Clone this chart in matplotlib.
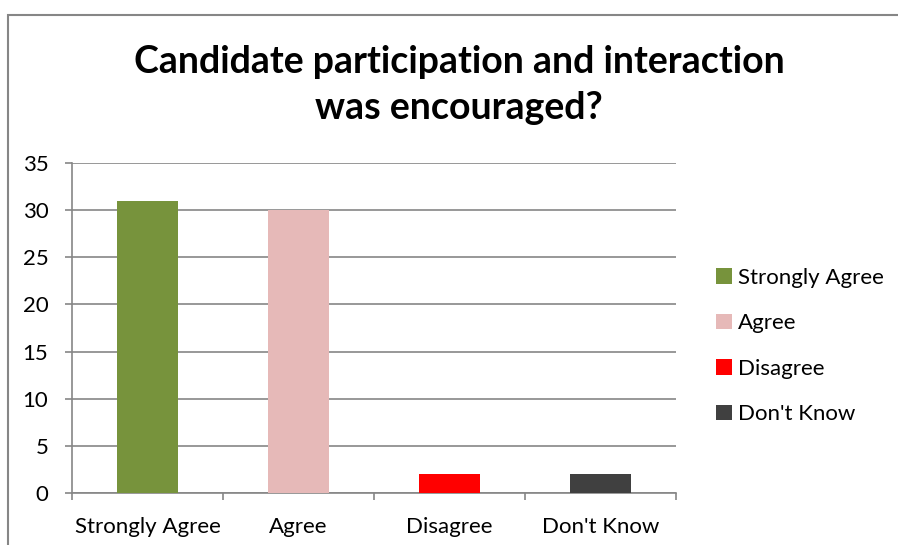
import matplotlib.pyplot as plt
from matplotlib.patches import Patch, Rectangle

categories = ["Strongly Agree", "Agree", "Disagree", "Don't Know"]
counts = [31, 30, 2, 2]
colors = ["#77933C", "#E6B9B8", "#FF0000", "#404040"]
title = "Candidate participation and interaction\nwas encouraged?"

W, H = 898, 545
plt.rcParams['font.family'] = ['Lato', 'DejaVu Sans']

fig = plt.figure(figsize=(W / 100, H / 100), dpi=100)

# outer chart border (runs off the right/bottom of the picture)
fig.patches.append(Rectangle((8 / W, -0.1), 1.2, 1 - 15 / H + 0.1, transform=fig.transFigure,
                             fill=False, edgecolor="#868686", linewidth=1.5))

ax = fig.add_axes([72 / W, 52 / H, 604 / W, 330 / H])
x = range(len(categories))
ax.bar(x, counts, width=0.4, color=colors, zorder=3)

ax.set_xlim(-0.5, len(categories) - 0.5)
ax.set_ylim(0, 35)
ax.set_yticks(range(0, 36, 5))
ax.grid(axis='y', color="#868686", linewidth=1.2, zorder=0)

ax.set_xticks([i - 0.5 for i in range(len(categories) + 1)])
ax.set_xticklabels([])
ax.set_xticks(list(x), minor=True)
ax.set_xticklabels(categories, minor=True, fontsize=16)
ax.tick_params(axis='x', which='minor', length=0, pad=17)
ax.tick_params(axis='x', which='major', length=5, color="#868686", width=1.2)
ax.tick_params(axis='y', length=5, color="#868686", width=1.2, labelsize=16, pad=12)

for side in ['top', 'right']:
    ax.spines[side].set_visible(False)
for side in ['left', 'bottom']:
    ax.spines[side].set_color("#868686")
    ax.spines[side].set_linewidth(1.2)

fig.text(459 / W, 1 - 85 / H, title, ha='center', va='center', fontsize=27,
         fontweight='bold', linespacing=1.4)

handles = [Patch(facecolor=c, edgecolor='none') for c in colors]
fig.legend(handles, categories, loc='center left', bbox_to_anchor=(696 / W, 1 - 346 / H),
           frameon=False, fontsize=16, handlelength=0.7, handleheight=0.7,
           handletextpad=0.3, labelspacing=1.15)

fig.savefig("out.png", dpi=100)
